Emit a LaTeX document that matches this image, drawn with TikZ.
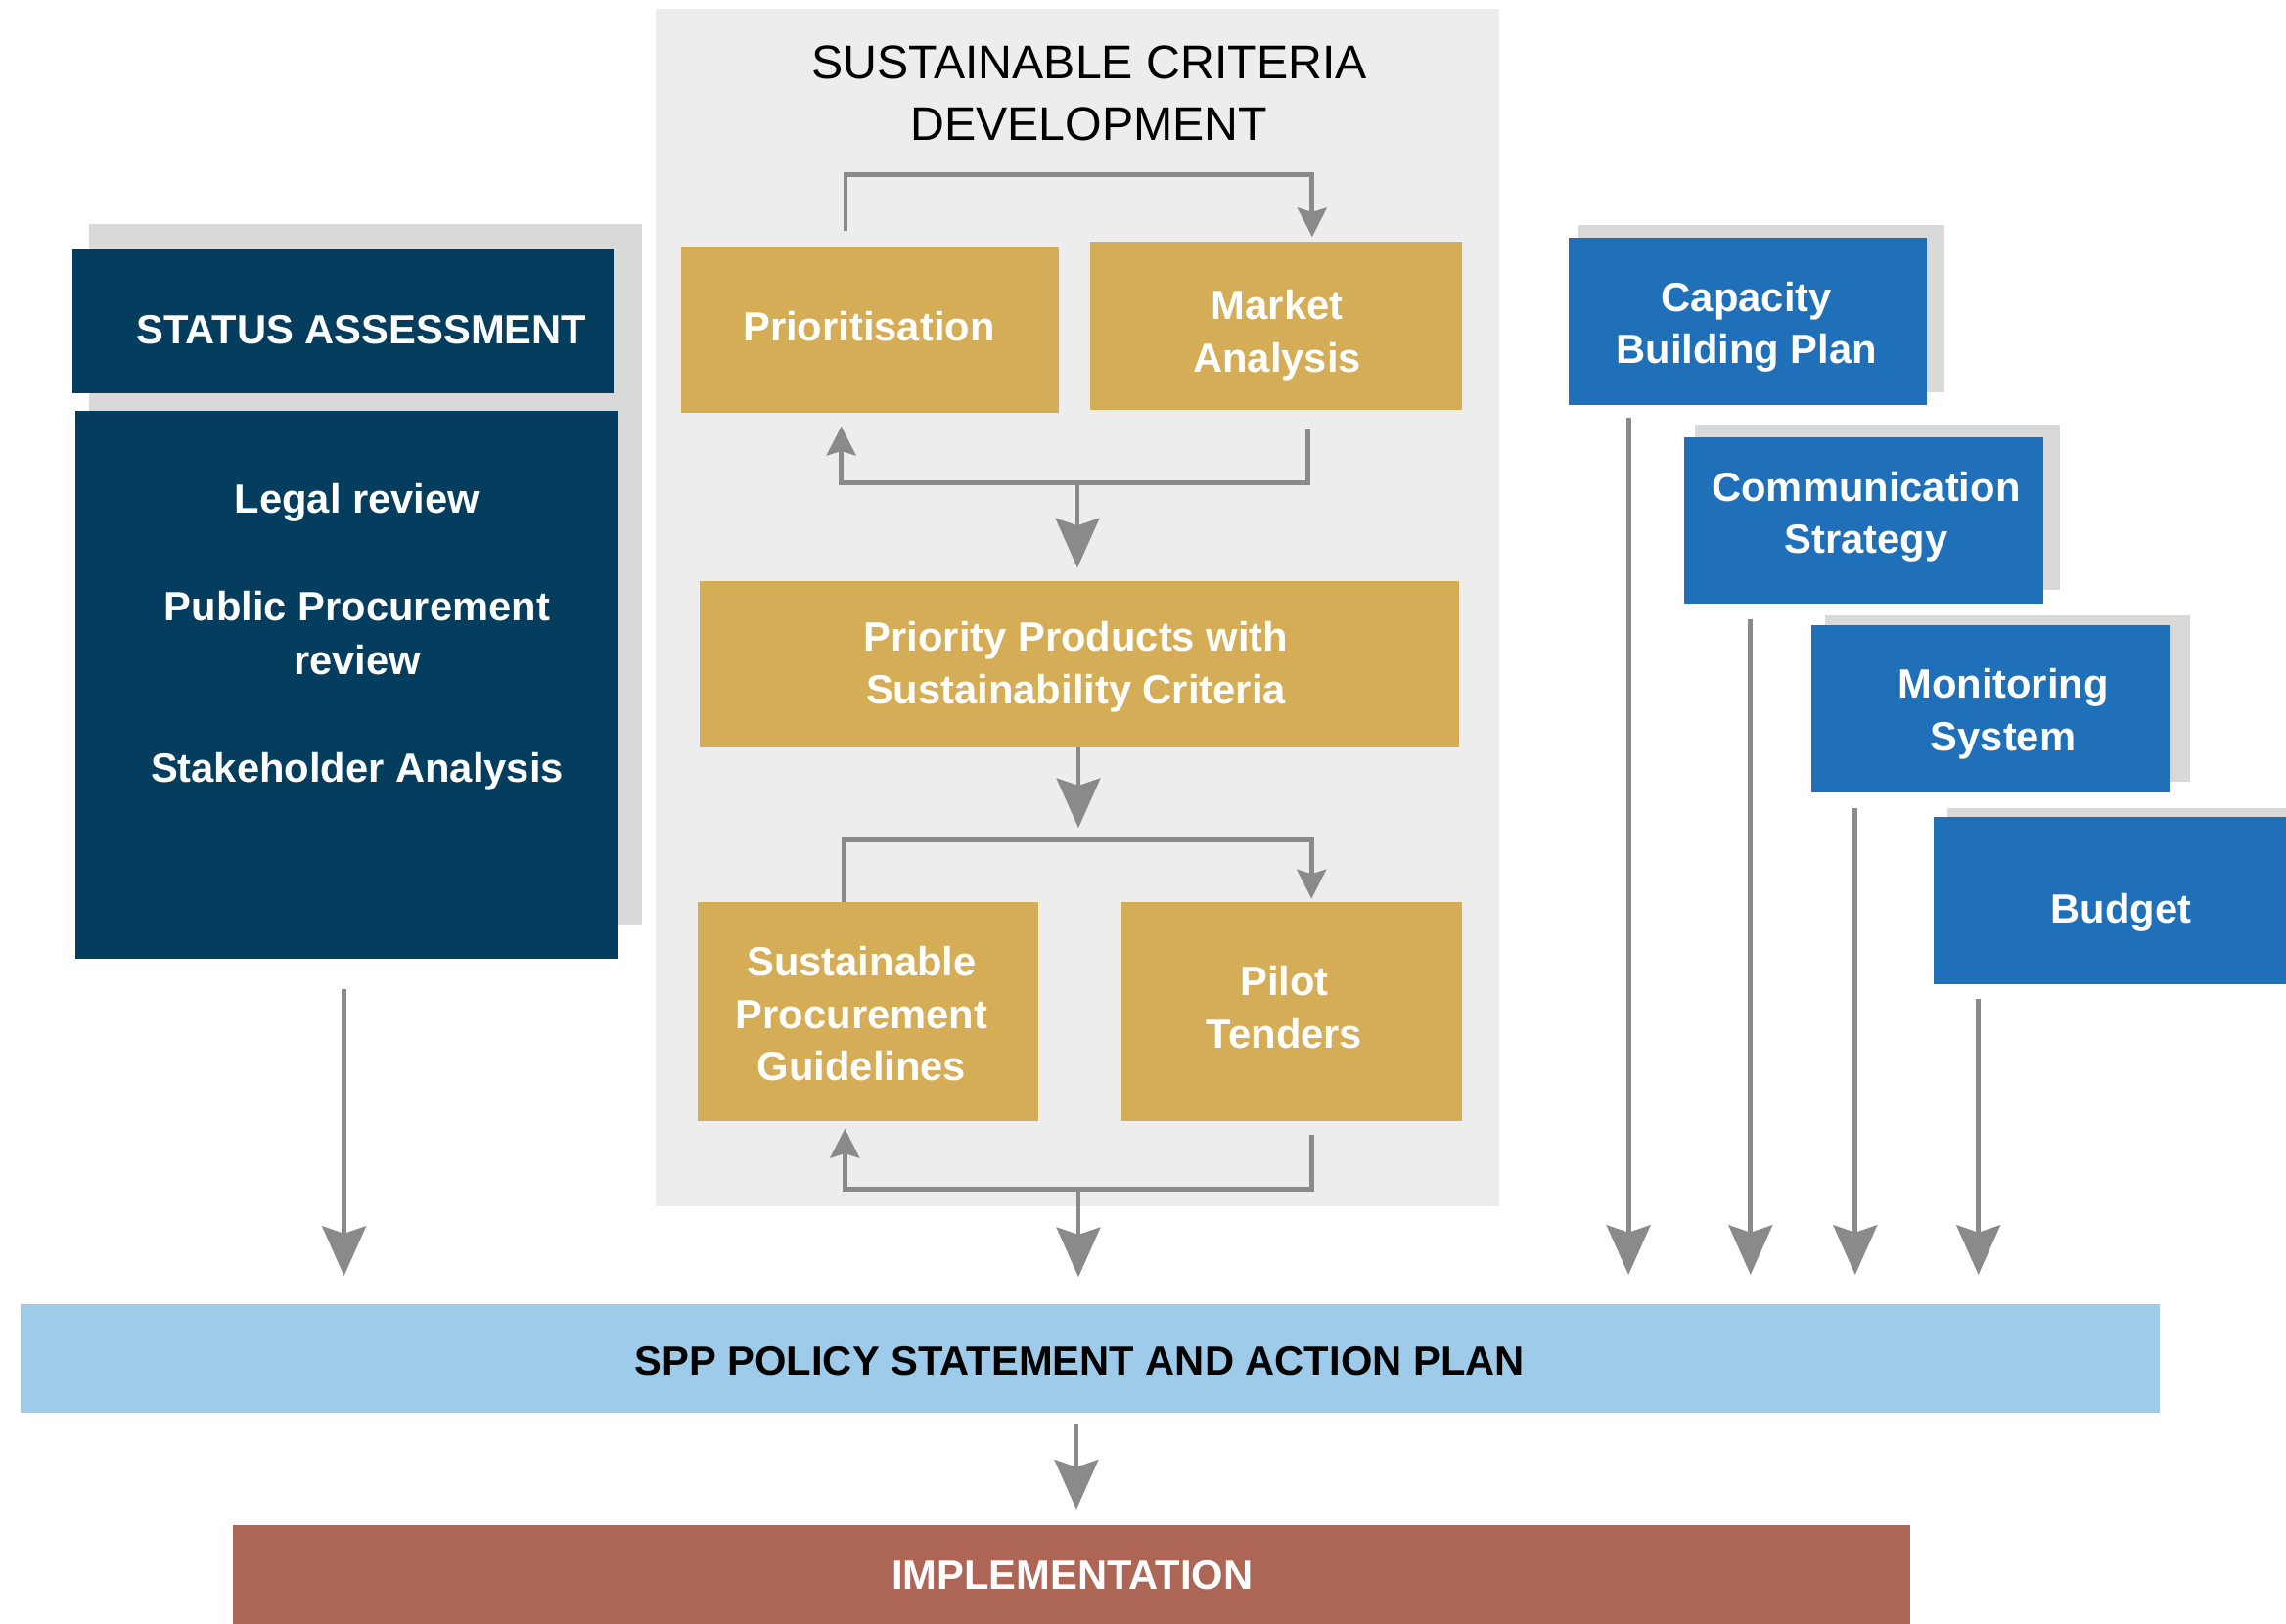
\documentclass[tikz,border=0pt]{standalone}
\usepackage{fontspec}
\setmainfont{Liberation Sans}
\usetikzlibrary{arrows.meta,calc,fit}
\definecolor{navy}{RGB}{4,61,93}
\definecolor{shadowgray}{RGB}{217,217,217}
\definecolor{panelgray}{RGB}{237,237,237}
\definecolor{gold}{RGB}{212,173,86}
\definecolor{midblue}{RGB}{32,111,185}
\definecolor{lightblue}{RGB}{157,203,233}
\definecolor{rust}{RGB}{173,101,86}
\definecolor{conngray}{RGB}{138,138,138}
\begin{document}
\begin{tikzpicture}[x=0.5pt,y=-0.5pt,
  box/.style={rectangle, inner sep=0pt, draw=none},
  navybox/.style={box, fill=navy},
  goldbox/.style={box, fill=gold},
  bluebox/.style={box, fill=midblue},
  wtext/.style={text=white, font=\bfseries\fontsize{14}{18}\selectfont, align=center, inner sep=0pt},
  ktext/.style={text=black, font=\bfseries\fontsize{14}{18}\selectfont, align=center, inner sep=0pt},
  titletext/.style={text=black, font=\fontsize{16.2}{21}\selectfont, align=center, inner sep=0pt},
  conn/.style={draw=conngray, line width=1.6pt},
  bigtip/.style={-{Stealth[length=17pt,width=15pt,inset=2.5pt]}},
  smalltip/.style={-{Stealth[length=10pt,width=10pt,inset=1.5pt]}}
]
\useasboundingbox (0,0) rectangle (1568,1114);
\clip (0,0) rectangle (1568,1114);
\fill[white] (0,0) rectangle (1568,1114);

% ---------- Status assessment ----------
\fill[shadowgray] (61,154) rectangle (440,634);
\node[navybox, fit={(50,171) (421,270)}] (sahead) {};
\node[navybox, fit={(52,282) (424,658)}] (sabody) {};
\node[wtext] (satitle) at (248,226) {STATUS ASSESSMENT};
\node[wtext, font=\bfseries\fontsize{14}{18.5}\selectfont] (satext) at (245,437)
  {Legal review\\[18.5pt]Public Procurement\\review\\[18.5pt]Stakeholder Analysis};

% ---------- Sustainable criteria development ----------
\node[box, fill=panelgray, fit={(450,6) (1028,827.5)}] (panel) {};
\node[titletext] (sctitle) at (747,64) {SUSTAINABLE CRITERIA\\DEVELOPMENT};

\node[goldbox, fit={(467,169) (726.5,283)}] (prio) {};
\node[goldbox, fit={(748,166) (1002.5,281)}] (market) {};
\node[goldbox, fit={(480,398.6) (1000.6,512.7)}] (priority) {};
\node[goldbox, fit={(478.5,619) (712,769)}] (guide) {};
\node[goldbox, fit={(769.4,619) (1002.5,769)}] (pilot) {};

\node[wtext] (priot) at (596,224) {Prioritisation};
\node[wtext] (markett) at (876,230) {Market\\Analysis};
\node[wtext] (priorityt) at (738,457.5) {Priority Products with\\Sustainability Criteria};
\node[wtext] (guidet) at (591,695.5) {Sustainable\\Procurement\\Guidelines};
\node[wtext] (pilott) at (881,691) {Pilot\\Tenders};

% ---------- Blue boxes ----------
\fill[shadowgray] (1082.6,154.5) rectangle (1333.4,269.2);
\node[bluebox, fit={(1075.8,163) (1321.7,277.8)}] (cap) {};
\fill[shadowgray] (1162.5,291) rectangle (1412.6,404.5);
\node[bluebox, fit={(1155,300) (1401.3,414)}] (comm) {};
\fill[shadowgray] (1251.5,422.5) rectangle (1502,536.5);
\node[bluebox, fit={(1242.5,429.2) (1487.8,543.6)}] (mon) {};
\fill[shadowgray] (1335.6,554.6) rectangle (1600,666);
\node[bluebox, fit={(1326.6,560.3) (1583,675)}] (budget) {};

\node[wtext] (capt) at (1198,224.5) {Capacity\\Building Plan};
\node[wtext] (commt) at (1280,354.5) {Communication\\Strategy};
\node[wtext] (mont) at (1374,490) {Monitoring\\System};
\node[wtext] (budgett) at (1455,626) {Budget};

% ---------- Bars ----------
\node[box, fill=lightblue, fit={(14,894.5) (1481.5,969.3)}] (spp) {};
\node[ktext] (sppt) at (740.5,934) {SPP POLICY STATEMENT AND ACTION PLAN};
\node[box, fill=rust, fit={(160,1046.7) (1310.4,1125)}] (impl) {};
\node[wtext] (implt) at (735.5,1081) {IMPLEMENTATION};

% ---------- Connectors inside panel ----------
\coordinate (t1) at (580,120);
\coordinate (t2) at (900,120);
\draw[conn, smalltip, shorten <=5pt, shorten >=1.5pt]
  (prio.north -| t1) -- (t1) -- (t2) -- (market.north -| t2);

\coordinate (b1) at (577,331);
\coordinate (b2) at (897,331);
\coordinate (b3) at (739,331);
\draw[conn, smalltip, shorten <=6.5pt, shorten >=4.5pt]
  (market.south -| b2) -- (b2) -- (b1) -- (prio.south -| b1);
\draw[conn, bigtip, shorten >=4.3pt] (b3) -- (priority.north -| b3);

\coordinate (c1) at (578.6,576.5);
\coordinate (c2) at (899.6,576.5);
\coordinate (m1) at (739.7,576.5);
\draw[conn, bigtip, shorten >=4.25pt] (priority.south -| m1) -- (m1);
\draw[conn, smalltip, shorten >=1pt]
  (guide.north -| c1) -- (c1) -- (c2) -- (pilot.north -| c2);

\coordinate (d1) at (579.5,816);
\coordinate (d2) at (899.6,816);
\coordinate (d3) at (739.7,816);
\draw[conn, smalltip, shorten <=4.5pt, shorten >=2.5pt]
  (pilot.south -| d2) -- (d2) -- (d1) -- (guide.south -| d1);
\draw[conn, bigtip, shorten >=9pt] (d3) -- (spp.north -| d3);

% ---------- Connectors to SPP ----------
\coordinate (xs) at (236,0);
\draw[conn, bigtip, shorten <=10pt, shorten >=9.4pt] (sabody.south -| xs) -- (spp.north -| xs);
\coordinate (xa) at (1117,0);
\coordinate (xb) at (1200.7,0);
\coordinate (xc) at (1272.5,0);
\coordinate (xd) at (1357,0);
\draw[conn, bigtip, shorten <=4.3pt, shorten >=9.75pt] (cap.south -| xa) -- (spp.north -| xa);
\draw[conn, bigtip, shorten <=5.2pt, shorten >=9.75pt] (comm.south -| xb) -- (spp.north -| xb);
\draw[conn, bigtip, shorten <=5.3pt, shorten >=9.75pt] (mon.south -| xc) -- (spp.north -| xc);
\draw[conn, bigtip, shorten <=5pt, shorten >=9.75pt] (budget.south -| xd) -- (spp.north -| xd);

\coordinate (xi) at (738.3,0);
\draw[conn, bigtip, shorten <=3.65pt, shorten >=5.35pt] (spp.south -| xi) -- (impl.north -| xi);
\end{tikzpicture}
\end{document}
